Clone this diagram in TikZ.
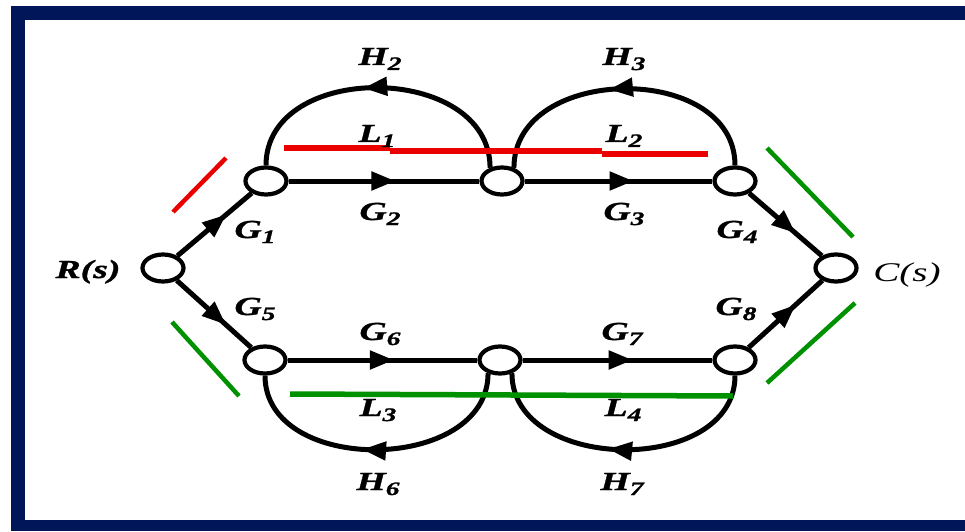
\documentclass[tikz,border=0pt]{standalone}
\usepackage{fontspec}
\newfontfamily\labfont[FakeStretch=1.45, BoldItalicFeatures={FakeBold=1.2}]{Liberation Serif}
\usetikzlibrary{arrows.meta,decorations.markings,shapes.geometric}
\definecolor{navy}{RGB}{1,22,88}
\definecolor{lred}{RGB}{235,0,0}
\definecolor{lgreen}{RGB}{0,145,0}
\newcommand\lsub[2]{#1\raisebox{-5pt}{\fontsize{19}{19}\selectfont #2}}
\begin{document}
\begin{tikzpicture}[x=1pt,y=1pt,
 sn/.style={ellipse, draw, line width=4.2pt, minimum width=41pt, minimum height=27pt, inner sep=0pt, fill=white},
 wire/.style={line width=5pt},
 midarrow/.style={postaction={decorate}, decoration={markings, mark=at position #1 with {\arrow{Triangle[length=24pt,width=18pt]}}}},
 lab/.style={font=\labfont\fontsize{26}{28}\selectfont\bfseries\itshape, inner sep=0pt, anchor=base},
 redln/.style={draw=lred, line width=5.5pt},
 grnln/.style={draw=lgreen, line width=4.5pt}]
\fill[white] (0,0) rectangle (965,531);
\useasboundingbox (0,0) rectangle (965,531);
\fill[navy] (11,511) rectangle (965,525);
\fill[navy] (11,0) rectangle (25,525);
\fill[navy] (11,0) rectangle (965,11);
% nodes
\node[sn] (R) at (163,263) {};
\node[sn] (tl) at (266,350) {};
\node[sn] (tm) at (502,350) {};
\node[sn] (tr) at (735,350) {};
\node[sn] (C) at (836,263) {};
\node[sn] (bl) at (265,171) {};
\node[sn] (bm) at (500,171) {};
\node[sn] (br) at (735,171) {};
% forward branches
\draw[wire, midarrow=0.66] (R) -- (tl);
\draw[wire, midarrow=0.56] (tl) -- (tm);
\draw[wire, midarrow=0.58] (tm) -- (tr);
\draw[wire, midarrow=0.64] (tr) -- (C);
\draw[wire, midarrow=0.66] (R) -- (bl);
\draw[wire, midarrow=0.56] (bl) -- (bm);
\draw[wire, midarrow=0.58] (bm) -- (br);
\draw[wire, midarrow=0.64] (br) -- (C);
% feedback loops
\draw[wire, midarrow=0.55] (tm.132) to[out=90,in=90,looseness=1.2] (tl.north);
\draw[wire, midarrow=0.55] (tr.north) to[out=90,in=90,looseness=1.2] (tm.48);
\draw[wire, midarrow=0.55] (bm.-132) to[out=-90,in=-90,looseness=1.15] (bl.south);
\draw[wire, midarrow=0.55] (br.south) to[out=-90,in=-90,looseness=1.15] (bm.-48);
% loop marks
\draw[redln] (284,383) -- (390,383);
\draw[redln] (390,380) -- (602,380);
\draw[redln] (602,377) -- (708,377);
\draw[draw=lred, line width=4.5pt] (173,319) -- (226,373);
\draw[grnln] (767,383) -- (853,294);
\draw[grnln] (767,148) -- (855,228);
\draw[grnln] (172,209) -- (239,135);
\draw[grnln, line width=5.5pt] (290,137) -- (733,135);
% labels
\node[lab] (lH2) at (380,466) {\lsub{H}{2}};
\node[lab] (lH3) at (624,466) {\lsub{H}{3}};
\node[lab] (lL1) at (377,389) {\lsub{L}{1}};
\node[lab] (lL2) at (624,389) {\lsub{L}{2}};
\node[lab] (lG2) at (380,311) {\lsub{G}{2}};
\node[lab] (lG3) at (624,311) {\lsub{G}{3}};
\node[lab] (lG1) at (255,293) {\lsub{G}{1}};
\node[lab] (lG4) at (737,293) {\lsub{G}{4}};
\node[lab] (lG5) at (255,216) {\lsub{G}{5}};
\node[lab] (lG6) at (380,191) {\lsub{G}{6}};
\node[lab] (lG7) at (622,191) {\lsub{G}{7}};
\node[lab] (lG8) at (736,216) {\lsub{G}{8}};
\node[lab] (lL3) at (378,115) {\lsub{L}{3}};
\node[lab] (lL4) at (623,115) {\lsub{L}{4}};
\node[lab] (lH6) at (378,41) {\lsub{H}{6}};
\node[lab] (lH7) at (622,41) {\lsub{H}{7}};
\node[lab] (lR) at (88,253) {R(s)};
\node[lab, font=\labfont\fontsize{27}{28}\selectfont\itshape] (lC) at (907,250) {C(s)};
\end{tikzpicture}
\end{document}
